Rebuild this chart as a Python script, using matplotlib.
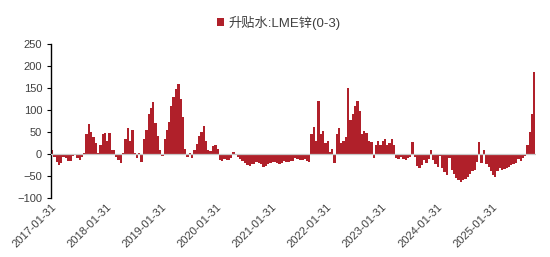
import pandas as pd
import matplotlib
matplotlib.use("Agg")
import matplotlib.pyplot as plt
import matplotlib.dates as mdates

plt.rcParams['font.family'] = ['Liberation Sans', 'Noto Sans CJK SC', 'DejaVu Sans']

# semi-monthly readings of the LME zinc cash-3M spread, Feb 2017 -> Oct 2025
START = "2017-02-01"
v2017 = [8, -8, -18, -25, -20, -8, -10, -17, -15, -4, -3, -10,
         -13, -6, 2, 45, 68, 50, 38, 25, 2, 20]
v2018 = [45, 48, 30, 48, 8, 10, -8, -13, -20, 2, 35, 58,
         30, 55, 3, -10, 2, -18, 35, 55, 90, 105, 118, 70]
v2019 = [40, 8, -5, 35, 55, 72, 110, 130, 148, 160, 125, 85,
         12, -8, 3, -10, 10, 22, 40, 50, 63, 30, 8, 6]
v2020 = [18, 21, 12, -13, -15, -12, -14, -13, -10, 4, -3, -8,
         -12, -15, -20, -25, -28, -24, -22, -19, -20, -24, -30, -27]
v2021 = [-22, -20, -18, -19, -21, -22, -20, -17, -18, -19, -17, -16,
         -10, -12, -14, -13, -12, -15, -18, 45, 62, 30, 121, 45]
v2022 = [52, 25, 30, 5, 11, -20, 45, 60, 25, 30, 38, 150,
         78, 90, 108, 121, 98, 45, 53, 48, 30, 27, -10, 20]
v2023 = [30, 20, 30, 34, 20, 25, 34, 20, -10, -12, -8, -12,
         -14, -10, -6, 27, -8, -27, -32, -25, -14, -21, -12, 9]
v2024 = [-14, -22, -29, -5, -32, -42, -48, -10, -36, -45, -55, -60,
         -63, -60, -56, -52, -45, -40, -36, -18, 28, -20, 8, -22]
v2025 = [-30, -40, -48, -52, -40, -33, -36, -34, -33, -29, -25, -24,
         -21, -12, -15, -10, -5, 20, 50, 90, 187]

values = v2017 + v2018 + v2019 + v2020 + v2021 + v2022 + v2023 + v2024 + v2025
# bin edges: one more than values
edges = pd.date_range(START, periods=len(values) + 1, freq="SMS")

tick_dates = pd.to_datetime([f"{y}-01-31" for y in range(2017, 2026)])
tick_labels = [d.strftime("%Y-%m-%d") for d in tick_dates]
yticks = [-100, -50, 0, 50, 100, 150, 200, 250]

red = "#B0202A"
grey_txt = "#404040"

fig = plt.figure(figsize=(5.5, 2.57), dpi=100)
ax = fig.add_axes([0.093, 0.230, 0.882, 0.599])

ax.stairs(values, mdates.date2num(edges), baseline=0, fill=True,
          color=red, linewidth=0, label="升贴水:LME锌(0-3)")
ax.axhline(0, color="#C8C8C8", lw=0.9, zorder=3)

ax.set_ylim(-100, 250)
ax.set_xlim(mdates.date2num(pd.Timestamp("2017-01-31")),
            mdates.date2num(pd.Timestamp("2025-11-20")))
ax.set_yticks(yticks)
ax.set_xticks(mdates.date2num(tick_dates))
ax.set_xticklabels(tick_labels, rotation=45, ha="right",
                   rotation_mode="anchor", fontsize=8, color=grey_txt)
ax.tick_params(axis="x", length=0, pad=3)
ax.tick_params(axis="y", labelsize=8, labelcolor=grey_txt, length=3,
               width=0.8, direction="out")

for side in ["top", "right", "bottom"]:
    ax.spines[side].set_visible(False)
ax.spines["left"].set_color("black")
ax.spines["left"].set_linewidth(1.0)

leg = fig.legend(loc="upper center", bbox_to_anchor=(0.507, 0.985), frameon=False,
                 fontsize=9.5, handlelength=0.55, handleheight=0.55,
                 handletextpad=0.3)
for t in leg.get_texts():
    t.set_color(grey_txt)

fig.savefig("out.png", dpi=100)
